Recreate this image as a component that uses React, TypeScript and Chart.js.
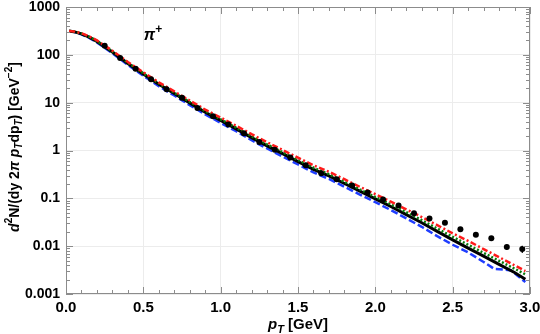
import React, { useEffect, useRef } from 'react';
import { Chart, registerables } from 'chart.js';
Chart.register(...registerables);

// measured data points (pT in GeV, spectrum value)
const dataPt = [0.25, 0.35, 0.45, 0.55, 0.65, 0.75, 0.85, 0.95, 1.05, 1.15, 1.25, 1.35, 1.45, 1.55, 1.65, 1.75, 1.85, 1.95, 2.05, 2.15, 2.25, 2.35, 2.45, 2.55, 2.65, 2.75, 2.85, 2.95];
const dataVal = [155, 86, 51, 31, 19, 12.6, 7.7, 5.2, 3.5, 2.3, 1.5, 1.04, 0.71, 0.49, 0.336, 0.25, 0.185, 0.132, 0.094, 0.071, 0.049, 0.038, 0.031, 0.0227, 0.0174, 0.0146, 0.0096, 0.0087];
const dataErr = [0, 0, 0, 0, 0, 0, 0, 0, 0, 0, 0, 0, 0, 0, 0, 0, 0, 0, 0, 0, 0, 0, 0, 0, 0.0008, 0.0008, 0.0012, 0.0015];

// model curves
const curvePt = [0.02, 0.05, 0.1, 0.15, 0.2, 0.3, 0.4, 0.5, 0.6, 0.7, 0.8, 0.9, 1.0, 1.1, 1.2, 1.3, 1.4, 1.5, 1.6, 1.7, 1.8, 1.9, 2.0, 2.1, 2.2, 2.3, 2.4, 2.5, 2.6, 2.7, 2.8, 2.9, 2.97];
const blackVal = [316, 305, 275, 234, 191, 115, 66, 39.8, 24.3, 15.5, 9.9, 6.3, 4.25, 2.84, 1.86, 1.25, 0.857, 0.587, 0.405, 0.295, 0.204, 0.141, 0.0977, 0.0676, 0.0457, 0.0309, 0.0204, 0.0135, 0.00912, 0.00617, 0.00417, 0.00282, 0.00204];
const redVal = [316, 309, 282, 243, 200, 122, 70.8, 43.2, 26.6, 17.2, 11.1, 7.16, 4.88, 3.30, 2.19, 1.49, 1.03, 0.706, 0.492, 0.359, 0.251, 0.174, 0.122, 0.0851, 0.0589, 0.0407, 0.0275, 0.0186, 0.0129, 0.0087, 0.00589, 0.00398, 0.00302];
const greenVal = [316, 307, 278, 238, 194, 117.5, 67.9, 41.1, 25.2, 16.1, 10.35, 6.64, 4.49, 3.01, 1.99, 1.34, 0.923, 0.632, 0.438, 0.319, 0.222, 0.153, 0.107, 0.075, 0.0513, 0.0351, 0.0234, 0.0157, 0.0107, 0.00724, 0.00495, 0.00339, 0.00257];
const bluePt = [0.02, 0.05, 0.1, 0.15, 0.2, 0.3, 0.4, 0.5, 0.6, 0.7, 0.8, 0.9, 1.0, 1.1, 1.2, 1.3, 1.4, 1.5, 1.6, 1.7, 1.8, 1.9, 2.0, 2.1, 2.2, 2.3, 2.4, 2.5, 2.6, 2.7, 2.77, 2.83, 2.88, 2.92, 2.97];
const blueVal = [316, 302, 269, 226, 182, 108, 61.7, 36.7, 22.1, 14.1, 8.91, 5.69, 3.78, 2.53, 1.64, 1.10, 0.746, 0.512, 0.348, 0.254, 0.174, 0.120, 0.0832, 0.0569, 0.038, 0.0254, 0.0162, 0.0107, 0.00741, 0.00468, 0.00333, 0.00324, 0.00309, 0.0024, 0.00178];

const xTicks = [0, 0.5, 1.0, 1.5, 2.0, 2.5, 3.0];
const xTickLabels = ['0.0', '0.5', '1.0', '1.5', '2.0', '2.5', '3.0'];
const yTicks = [0.001, 0.01, 0.1, 1, 10, 100, 1000];
const yTickLabels = ['0.001', '0.01', '0.1', '1', '10', '100', '1000'];

const FONT = '"Liberation Sans", Arial, sans-serif';

type Run = { t: string; it?: boolean; sup?: boolean; sub?: boolean };

function drawRuns(ctx: CanvasRenderingContext2D, runs: Run[], size: number, cx: number, cy: number, rot: number) {
  const fontFor = (r: Run) => {
    const s = r.sup || r.sub ? Math.round(size * 0.72) : size;
    return `${r.it ? 'italic ' : ''}bold ${s}px ${FONT}`;
  };
  let total = 0;
  for (const r of runs) {
    ctx.font = fontFor(r);
    total += ctx.measureText(r.t).width;
  }
  ctx.save();
  ctx.translate(cx, cy);
  ctx.rotate(rot);
  ctx.fillStyle = '#000';
  ctx.textBaseline = 'middle';
  ctx.textAlign = 'left';
  let x = -total / 2;
  for (const r of runs) {
    ctx.font = fontFor(r);
    const dy = r.sup ? -size * 0.38 : r.sub ? size * 0.3 : 0;
    ctx.fillText(r.t, x, dy);
    x += ctx.measureText(r.t).width;
  }
  ctx.restore();
}

const decorPlugin = {
  id: 'decor',
  afterDatasetsDraw(chart: any) {
    const ctx = chart.ctx as CanvasRenderingContext2D;
    const xs = chart.scales.x;
    const ys = chart.scales.y;
    ctx.save();
    ctx.strokeStyle = '#000';
    ctx.lineWidth = 1.2;
    dataPt.forEach((p, i) => {
      const e = dataErr[i];
      if (!e) return;
      const px = xs.getPixelForValue(p);
      const y1 = ys.getPixelForValue(dataVal[i] + e);
      const y2 = ys.getPixelForValue(dataVal[i] - e);
      ctx.beginPath();
      ctx.moveTo(px, y1);
      ctx.lineTo(px, y2);
      ctx.stroke();
    });
    ctx.restore();
  },
  afterDraw(chart: any) {
    const ctx = chart.ctx as CanvasRenderingContext2D;
    const { left, right, top, bottom } = chart.chartArea;
    const xs = chart.scales.x;
    const ys = chart.scales.y;
    ctx.save();
    ctx.strokeStyle = '#8c8c8c';
    ctx.lineWidth = 1;
    ctx.strokeRect(left + 0.5, top + 0.5, right - left - 1, bottom - top - 1);
    ctx.beginPath();
    for (let k = 0; k <= 30; k++) {
      const v = k / 10;
      const px = Math.round(xs.getPixelForValue(v)) + 0.5;
      const len = k % 5 === 0 ? 7 : 4;
      ctx.moveTo(px, bottom);
      ctx.lineTo(px, bottom - len);
      ctx.moveTo(px, top);
      ctx.lineTo(px, top + len);
    }
    for (let d = -3; d < 3; d++) {
      for (let m = 1; m <= 9; m++) {
        const v = m * Math.pow(10, d);
        const py = Math.round(ys.getPixelForValue(v)) + 0.5;
        const len = m === 1 ? 7 : 4;
        ctx.moveTo(left, py);
        ctx.lineTo(left + len, py);
        ctx.moveTo(right, py);
        ctx.lineTo(right - len, py);
      }
    }
    ctx.stroke();
    ctx.restore();

    drawRuns(ctx, [
      { t: 'd', it: true }, { t: '2', sup: true }, { t: 'N/(dy 2' }, { t: 'π', it: true }, { t: ' ' },
      { t: 'p', it: true }, { t: 'T', it: true, sub: true }, { t: 'dp' }, { t: 'T', it: true, sub: true },
      { t: ') [GeV' }, { t: '−2', sup: true }, { t: ']' },
    ], 14, 15, 147, -Math.PI / 2);
    drawRuns(ctx, [{ t: 'p', it: true }, { t: 'T', it: true, sub: true }, { t: ' [GeV]' }], 15, 298, 325, 0);
    drawRuns(ctx, [{ t: 'π', it: true }, { t: '+', sup: true }], 16, 153, 36, 0);
  },
};

const zeroPad = (s: any) => { s.paddingLeft = 0; s.paddingRight = 0; s.paddingTop = 0; s.paddingBottom = 0; };

export default function App() {
  const ref = useRef<HTMLCanvasElement>(null);
  useEffect(() => {
    const canvas = ref.current!;
    const mk = (xs: number[], ys: number[]) => xs.map((x, i) => ({ x, y: ys[i] }));
    const chart = new Chart(canvas, {
      type: 'scatter',
      data: {
        datasets: [
          {
            label: 'data',
            data: mk(dataPt, dataVal),
            pointRadius: 3,
            pointBackgroundColor: '#000',
            pointBorderWidth: 0,
            showLine: false,
            order: 0,
          } as any,
          {
            label: 'red',
            data: mk(curvePt, redVal),
            showLine: true,
            borderColor: '#ff1a1a',
            borderWidth: 2.5,
            borderDash: [6, 2.5, 2, 2.5],
            pointRadius: 0,
            order: 1,
          },
          {
            label: 'green',
            data: mk(curvePt, greenVal),
            showLine: true,
            borderColor: '#0a7a0a',
            borderWidth: 2.5,
            borderDash: [2, 2],
            pointRadius: 0,
            order: 2,
          },
          {
            label: 'black',
            data: mk(curvePt, blackVal),
            showLine: true,
            borderColor: '#000',
            borderWidth: 3,
            pointRadius: 0,
            order: 3,
          },
          {
            label: 'blue',
            data: mk(bluePt, blueVal),
            showLine: true,
            borderColor: '#1f3dff',
            borderWidth: 2.5,
            borderDash: [7, 3],
            pointRadius: 0,
            order: 4,
          },
        ],
      },
      options: {
        animation: false,
        responsive: false,
        maintainAspectRatio: false,
        layout: { padding: { top: 7, right: 10, left: 0, bottom: 0 } },
        plugins: { legend: { display: false }, tooltip: { enabled: false } },
        scales: {
          x: {
            type: 'linear',
            min: 0,
            max: 3,
            afterBuildTicks: (s: any) => { s.ticks = xTicks.map((v) => ({ value: v })); },
            afterFit: (s: any) => { s.height = 40; zeroPad(s); },
            ticks: {
              callback: (v: any) => xTickLabels[xTicks.indexOf(Number(v))] ?? '',
              font: { family: FONT, size: 15, weight: 'bold' },
              color: '#000',
              padding: 5,
              maxRotation: 0,
              autoSkip: false,
            },
            grid: { color: '#ececec', drawTicks: false },
            border: { display: false },
          },
          y: {
            type: 'logarithmic',
            min: 0.001,
            max: 1000,
            afterBuildTicks: (s: any) => { s.ticks = yTicks.map((v) => ({ value: v })); },
            afterFit: (s: any) => { s.width = 66; zeroPad(s); },
            ticks: {
              callback: (v: any) => {
                const i = yTicks.findIndex((t) => Math.abs(t - Number(v)) / t < 1e-6);
                return i >= 0 ? yTickLabels[i] : '';
              },
              font: { family: FONT, size: 14, weight: 'bold' },
              color: '#000',
              padding: 6,
              autoSkip: false,
            },
            grid: { color: '#ececec', drawTicks: false },
            border: { display: false },
          },
        },
      } as any,
      plugins: [decorPlugin],
    });
    return () => chart.destroy();
  }, []);
  return (
    <div style={{ position: 'fixed', left: 0, top: 0, width: 540, height: 334, background: '#fff' }}>
      <canvas ref={ref} width={540} height={334} style={{ width: 540, height: 334, display: 'block' }} />
    </div>
  );
}
